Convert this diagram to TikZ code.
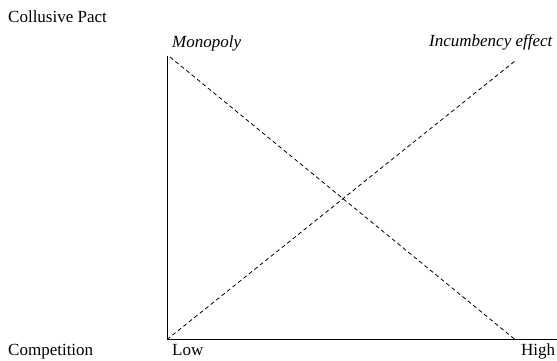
\documentclass[tikz,border=0pt]{standalone}
\usepackage{fontspec}
\setmainfont{Liberation Serif}
\usepackage{tikz}
\usetikzlibrary{positioning}

\begin{document}
\begin{tikzpicture}[
                x=1pt, y=1pt,
                font=\fontsize{17}{20}\selectfont,
                lbl/.style={anchor=base west, inner sep=0pt},
                curve/.style={line width=0.8pt, dash pattern=on 4pt off 3pt},
                axis/.style={line width=0.9pt},
            ]
            \useasboundingbox (0,0) rectangle (557,361);
            % --- axes ---
            \coordinate (o) at (167,21.5);
            \coordinate (ytop) at (167,305);
            \coordinate (xend) at (557,21.5);
            \draw[axis] (ytop) -- (o) -- (xend);
            % --- dashed lines ---
            \coordinate (monoA) at (170,304);
            \coordinate (monoB) at (515,21.5);
            \coordinate (incB) at (515,300);
            \draw[curve] (monoA) -- (monoB);
            \draw[curve] (o) -- (incB);
            % --- labels ---
            \node[lbl] (pact) at (8,338) {Collusive Pact};
            \node[lbl] (mono) at (172,313) {\itshape Monopoly};
            \node[lbl] (inc) at (429,314) {\itshape Incumbency effect};
            \node[lbl] (comp) at (8,5) {Competition};
            \node[lbl] (low) at (172,5) {Low};
            \node[lbl] (high) at (521,5) {High};
        \end{tikzpicture}
\end{document}
